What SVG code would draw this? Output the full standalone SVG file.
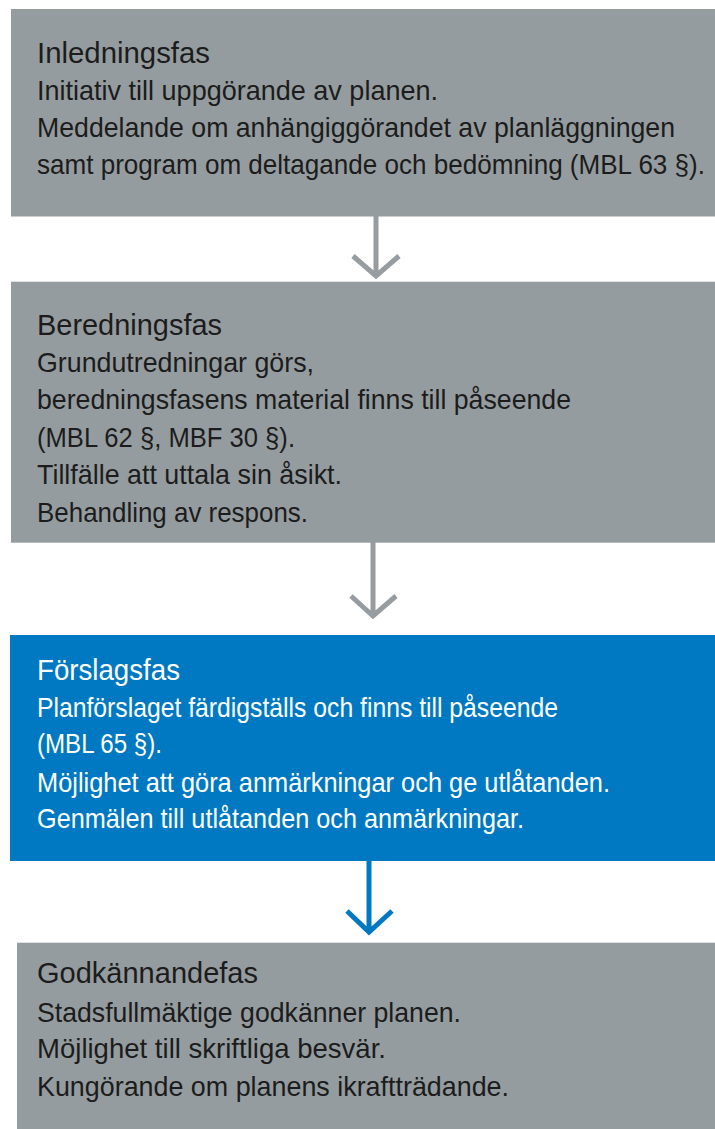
<svg xmlns="http://www.w3.org/2000/svg" width="715" height="1129" viewBox="0 0 715 1129">
<style>
.box{fill:#959c9f}
.blue{fill:#0079c2}
.t{font-family:"Liberation Sans Narrow","Liberation Sans",Arial,sans-serif;font-size:28px;fill:#1c1c1c}
.h{font-size:30px}
.w{fill:#ffffff}
.con{fill:none;stroke-width:5}
.g{stroke:#969c9f}
.b{stroke:#0079c2}
</style>
<rect width="715" height="1129" fill="#ffffff"/>
<g id="node-inledningsfas">
<rect class="box" x="11" y="9" width="704" height="207.5"/>
<text class="t h" x="37" y="63" textLength="173" lengthAdjust="spacingAndGlyphs">Inledningsfas</text>
<text class="t" x="37" y="99.5" textLength="401" lengthAdjust="spacingAndGlyphs">Initiativ till uppgörande av planen.</text>
<text class="t" x="37" y="136.5" textLength="638" lengthAdjust="spacingAndGlyphs">Meddelande om anhängiggörandet av planläggningen</text>
<text class="t" x="37" y="173.5" textLength="668" lengthAdjust="spacingAndGlyphs">samt program om deltagande och bedömning (MBL 63 §).</text>
</g>
<g id="node-beredningsfas">
<rect class="box" x="11" y="281.7" width="704" height="261"/>
<text class="t h" x="37" y="335" textLength="185" lengthAdjust="spacingAndGlyphs">Beredningsfas</text>
<text class="t" x="37" y="372.3" textLength="277" lengthAdjust="spacingAndGlyphs">Grundutredningar görs,</text>
<text class="t" x="37" y="409.3" textLength="534" lengthAdjust="spacingAndGlyphs">beredningsfasens material finns till påseende</text>
<text class="t" x="37" y="446.7" textLength="258" lengthAdjust="spacingAndGlyphs">(MBL 62 §, MBF 30 §).</text>
<text class="t" x="37" y="484.3" textLength="305" lengthAdjust="spacingAndGlyphs">Tillfälle att uttala sin åsikt.</text>
<text class="t" x="37" y="521.7" textLength="271" lengthAdjust="spacingAndGlyphs">Behandling av respons.</text>
</g>
<g id="node-forslagsfas">
<rect class="blue" x="10" y="635" width="705" height="226"/>
<text class="t h w" x="37" y="680" textLength="143" lengthAdjust="spacingAndGlyphs">Förslagsfas</text>
<text class="t w" x="37" y="716.7" textLength="521" lengthAdjust="spacingAndGlyphs">Planförslaget färdigställs och finns till påseende</text>
<text class="t w" x="37" y="753.3" textLength="125" lengthAdjust="spacingAndGlyphs">(MBL 65 §).</text>
<text class="t w" x="37" y="791.7" textLength="573" lengthAdjust="spacingAndGlyphs">Möjlighet att göra anmärkningar och ge utlåtanden.</text>
<text class="t w" x="37" y="828.3" textLength="487" lengthAdjust="spacingAndGlyphs">Genmälen till utlåtanden och anmärkningar.</text>
</g>
<g id="node-godkannandefas">
<rect class="box" x="17" y="942.7" width="698" height="186.3"/>
<text class="t h" x="37" y="983.3" textLength="221" lengthAdjust="spacingAndGlyphs">Godkännandefas</text>
<text class="t" x="37" y="1021.7" textLength="424" lengthAdjust="spacingAndGlyphs">Stadsfullmäktige godkänner planen.</text>
<text class="t" x="37" y="1058.3" textLength="349" lengthAdjust="spacingAndGlyphs">Möjlighet till skriftliga besvär.</text>
<text class="t" x="37" y="1095.7" textLength="472" lengthAdjust="spacingAndGlyphs">Kungörande om planens ikraftträdande.</text>
</g>
<g id="connectors">
<path class="con g" d="M376 216 V274 M353 256 L376 276 L399 256"/>
<path class="con g" d="M373 542 V615 M351 596 L373 616 L396 596"/>
<path class="con b" d="M369 860 V931 M347 911 L369 932 L392 911"/>
</g>
</svg>
